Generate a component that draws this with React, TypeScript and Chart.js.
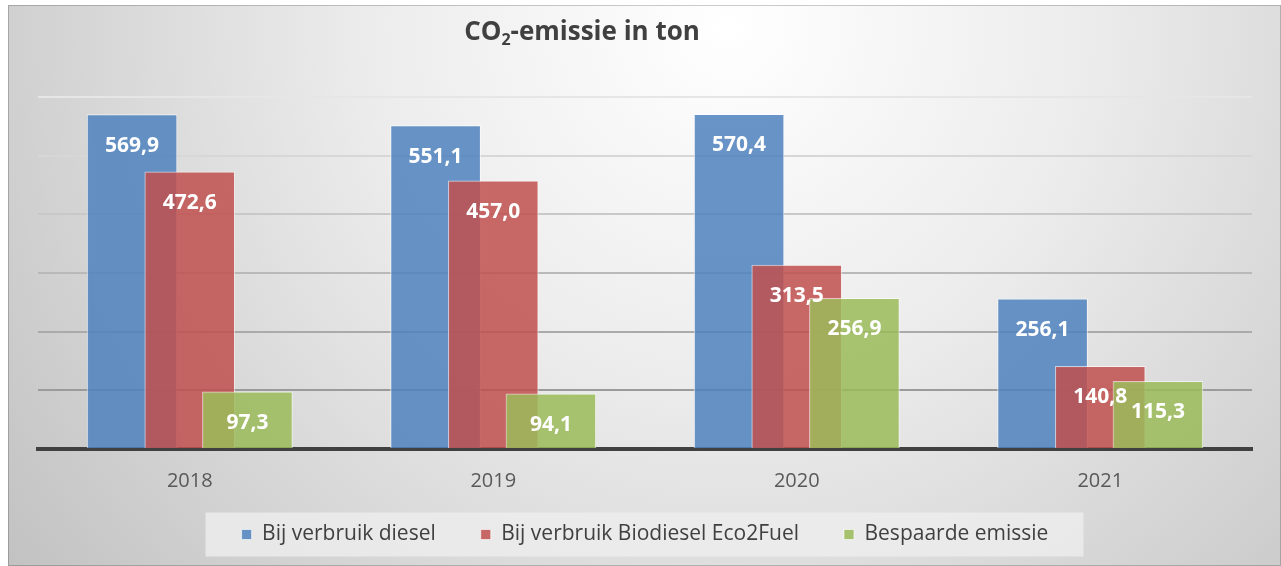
import React, { useEffect, useRef } from 'react';
import { Chart, registerables } from 'chart.js';

Chart.register(...registerables);

// ---- data ----
const years = ['2018', '2019', '2020', '2021'];
const dieselValues = [569.9, 551.1, 570.4, 256.1];
const biodieselValues = [472.6, 457.0, 313.5, 140.8];
const savedValues = [97.3, 94.1, 256.9, 115.3];
const seriesLabels = ['Bij verbruik diesel', 'Bij verbruik Biodiesel Eco2Fuel', 'Bespaarde emissie'];
const yMin = 0;
const yMax = 600;
const yStep = 100;

// ---- style ----
const FONT = '"Open Sans", Lato, sans-serif';
const W = 1273;
const H = 561;
const SHIFT = 0.19; // horizontal overlap offset of the series inside a year group
const series = [dieselValues, biodieselValues, savedValues];
const colors = ['rgba(79,129,189,0.85)', 'rgba(192,80,77,0.85)', 'rgba(155,187,89,0.85)'];

const fmt = (v: number) => v.toFixed(1).replace('.', ',');

const bgPlugin = {
  id: 'bgAndTitle',
  beforeDraw(chart: any) {
    const { ctx, width, height } = chart;
    ctx.save();
    const g = ctx.createRadialGradient(720, 20, 0, 720, 20, 900);
    g.addColorStop(0, '#ffffff');
    g.addColorStop(0.4, '#ececec');
    g.addColorStop(1, '#c2c2c2');
    ctx.fillStyle = g;
    ctx.fillRect(0, 0, width, height);
    ctx.strokeStyle = 'rgba(0,0,0,0.2)';
    ctx.lineWidth = 1;
    ctx.strokeRect(0.5, 0.5, width - 1, height - 1);

    // legend background box
    const lg = chart.legend;
    if (lg && lg.legendHitBoxes && lg.legendHitBoxes.length) {
      const hb = lg.legendHitBoxes[0];
      const cy = hb.top + hb.height / 2;
      ctx.fillStyle = 'rgba(238,238,238,0.8)';
      ctx.fillRect(width / 2 - 439, cy - 22, 878, 44);
    }

    // title with subscript
    ctx.fillStyle = '#404040';
    ctx.textBaseline = 'alphabetic';
    ctx.textAlign = 'left';
    const big = `bold 26px ${FONT}`;
    const small = `bold 16px ${FONT}`;
    ctx.font = big;
    const w1 = ctx.measureText('CO').width;
    const w3 = ctx.measureText('-emissie in ton').width;
    ctx.font = small;
    const w2 = ctx.measureText('2').width;
    let x = 574 - (w1 + w2 + w3) / 2;
    const base = 35;
    ctx.font = big;
    ctx.fillText('CO', x, base);
    x += w1;
    ctx.font = small;
    ctx.fillText('2', x, base + 5);
    x += w2;
    ctx.font = big;
    ctx.fillText('-emissie in ton', x, base);
    ctx.restore();
  },
};

const dataLabelPlugin = {
  id: 'dataLabels',
  afterDatasetsDraw(chart: any) {
    const ctx = chart.ctx;
    ctx.save();
    ctx.font = `bold 21px ${FONT}`;
    ctx.fillStyle = '#ffffff';
    ctx.textAlign = 'center';
    ctx.textBaseline = 'middle';
    chart.data.datasets.forEach((_ds: any, di: number) => {
      const meta = chart.getDatasetMeta(di);
      meta.data.forEach((el: any, i: number) => {
        ctx.fillText(fmt(series[di][i]), el.x, el.y + 31);
      });
    });
    ctx.restore();
  },
};

export default function App() {
  const ref = useRef<HTMLCanvasElement>(null);

  useEffect(() => {
    const datasets = series.map((vals, si) => ({
      label: seriesLabels[si],
      data: vals.map((v, i) => ({ x: i + (si - 1) * SHIFT, y: v })),
      backgroundColor: colors[si],
      borderColor: 'rgba(255,255,255,0.6)',
      borderWidth: 1,
      barThickness: 90,
      grouped: false,
      order: 3 - si,
    }));

    const chart = new Chart(ref.current as HTMLCanvasElement, {
      type: 'bar',
      data: { datasets },
      plugins: [bgPlugin, dataLabelPlugin],
      options: {
        responsive: false,
        animation: false,
        devicePixelRatio: 1,
        layout: { padding: { top: 92, left: 30, right: 29, bottom: 11 } },
        plugins: {
          title: { display: false },
          tooltip: { enabled: false },
          legend: {
            position: 'bottom',
            labels: {
              boxWidth: 10,
              boxHeight: 10,
              padding: 45,
              color: '#404040',
              font: { family: FONT, size: 21 },
              sort: (a: any, b: any) => a.datasetIndex - b.datasetIndex,
            },
          },
        },
        scales: {
          x: {
            type: 'linear',
            offset: false,
            min: -0.5,
            max: 3.5,
            z: 1,
            afterBuildTicks: (s: any) => {
              s.ticks = years.map((_, i) => ({ value: i }));
            },
            afterFit: (s: any) => {
              s.height = 30;
            },
            ticks: {
              mirror: true,
              padding: -44,
              color: '#595959',
              font: { family: FONT, size: 20 },
              callback: (v: any) => years[v] ?? '',
              maxRotation: 0,
              autoSkip: false,
            },
            grid: { display: true, offset: false, drawOnChartArea: false, drawTicks: false },
            border: { display: true, color: '#404040', width: 4 },
          },
          y: {
            min: yMin,
            max: yMax,
            afterFit: (s: any) => {
              s.width = 0;
            },
            ticks: { display: false, stepSize: yStep },
            grid: {
              drawTicks: false,
              lineWidth: 2,
              color: (c: any) => {
                const v = c.tick ? c.tick.value : 0;
                const g = Math.round(140 + v * 0.15);
                return `rgb(${g},${g},${g})`;
              },
            },
            border: { display: false },
          },
        },
      },
    } as any);

    return () => chart.destroy();
  }, []);

  return (
    <div style={{ position: 'fixed', left: 8, top: 5, width: W, height: H }}>
      <canvas ref={ref} width={W} height={H} style={{ display: 'block', width: W, height: H }} />
    </div>
  );
}
